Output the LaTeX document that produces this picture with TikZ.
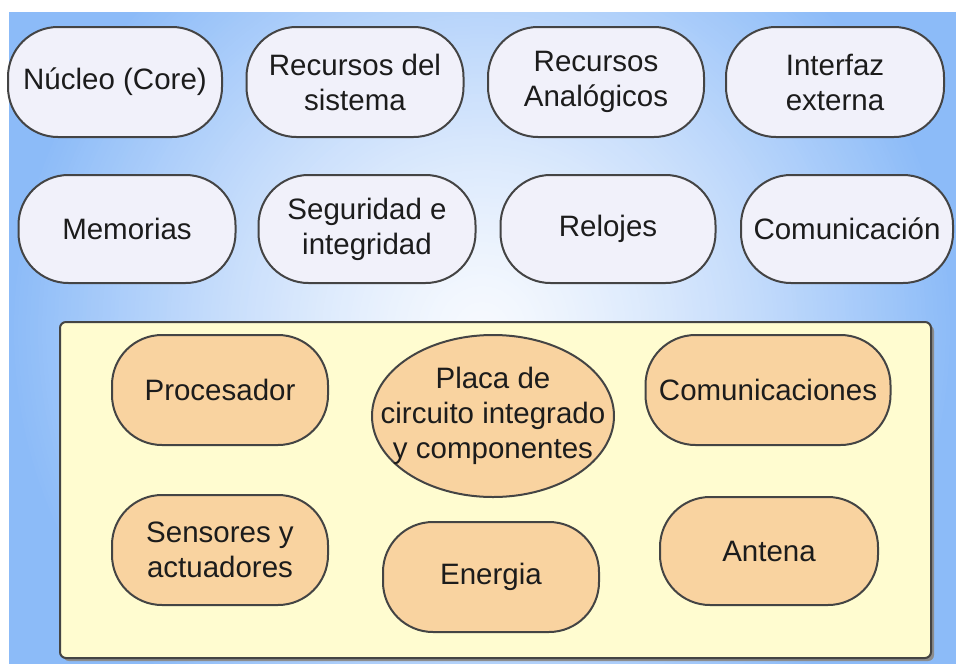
\documentclass[tikz,border=0pt]{standalone}
\usepackage{fontspec}
\setmainfont{Liberation Sans}
\usetikzlibrary{shapes.geometric}
\definecolor{bgedge}{HTML}{8CBBF8}
\definecolor{bgc1}{HTML}{F6F9FE}
\definecolor{nodefill}{HTML}{F1F1FA}
\definecolor{orangefill}{HTML}{F9D3A0}
\definecolor{boardfill}{HTML}{FFFCD0}
\definecolor{edgegray}{HTML}{444444}
\definecolor{txt}{HTML}{1C1C1C}
\begin{document}
\begin{tikzpicture}[x=1pt,y=-1pt,
  lbl/.style={font=\fontsize{29.5}{35}\selectfont, text=txt, align=center, inner sep=0pt},
  pill/.style={lbl, draw=edgegray, line width=2pt, rounded corners=50pt, minimum width=#1, minimum height=110pt},
  topnode/.style={pill=#1, fill=nodefill},
  innode/.style={pill=#1, fill=orangefill},
  ovalnode/.style={ellipse, draw=edgegray, line width=2pt, fill=orangefill, inner sep=0pt},
  boardbox/.style={draw=edgegray, line width=2pt, fill=boardfill, rounded corners=6pt, minimum width=871pt, minimum height=336pt, inner sep=0pt}
]
\useasboundingbox (0,0) rectangle (956,664);
\fill[white] (0,0) rectangle (956,664);
\begin{scope}
  \clip (9,12) rectangle (956,664);
  \fill[bgedge] (9,12) rectangle (956,664);
  \foreach \r in {480,476,...,4} {
    \pgfmathsetmacro\f{100*min(1,(\r/473)^1.35)}
    \fill[bgedge!\f!bgc1] (482,330) circle[radius=\r];
  }
\end{scope}

% top rows
\node[topnode=214pt] (nucleo) at (115,82) {Núcleo (Core)};
\node[topnode=217pt] (recsis) at (355,82) {Recursos del\\sistema};
\node[topnode=216pt] (recana) at (596,82) {Recursos\\Analógicos};
\node[topnode=218pt] (interfaz) at (835,82) {Interfaz\\externa};
\node[topnode=217pt, minimum height=108pt] (memorias) at (127,229) {Memorias};
\node[topnode=217pt, minimum height=108pt] (seguridad) at (367,229) {Seguridad e\\integridad};
\node[topnode=215pt, minimum height=108pt] (relojes) at (608,229) {Relojes};
\node[topnode=212pt, minimum height=108pt] (comunicacion) at (847,229) {Comunicación};

% board
\fill[black!45, rounded corners=6pt] (63,325) rectangle (934,661);
\node[boardbox] (board) at (495.5,490) {};

\node[innode=216pt] (procesador) at (220,390) {Procesador};
\node[ovalnode, minimum width=242pt, minimum height=162pt] (placa) at (493,416) {};
\node[lbl] (placatext) at (placa.center) {Placa de\\circuito integrado\\y componentes};
\node[innode=245pt] (comunicaciones) at (768,390) {Comunicaciones};
\node[innode=216pt] (sensores) at (220,550) {Sensores y\\actuadores};
\node[innode=216pt] (energia) at (491,577) {Energia};
\node[innode=218pt, minimum height=108pt] (antena) at (769,551) {Antena};
\end{tikzpicture}
\end{document}
